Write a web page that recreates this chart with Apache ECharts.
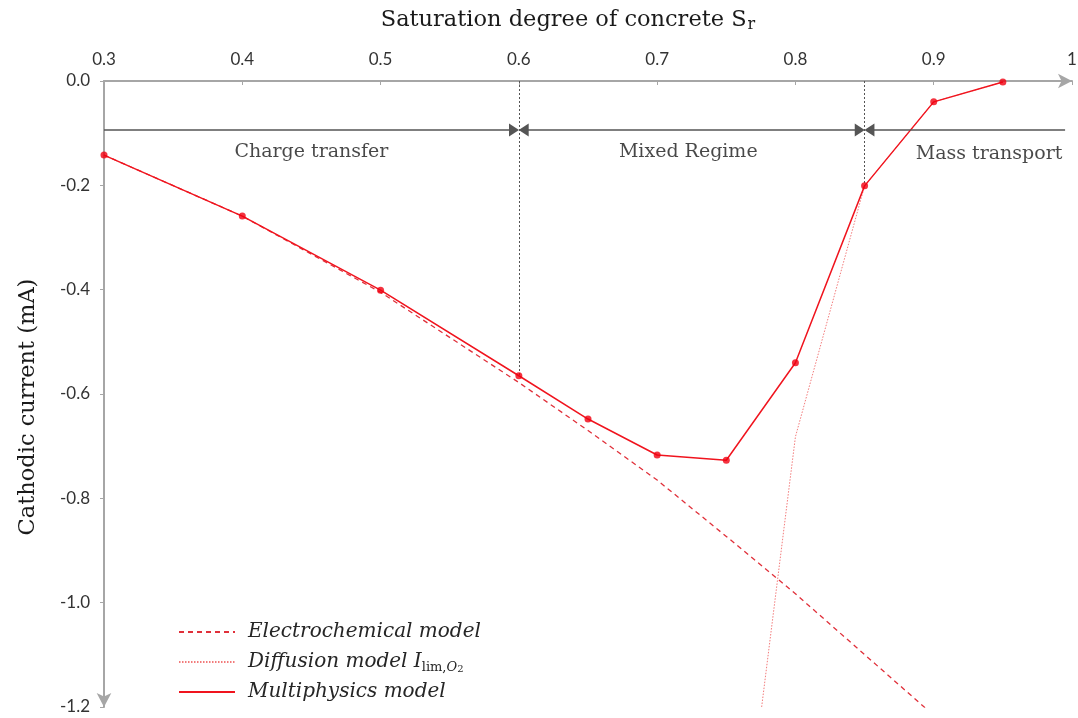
<!DOCTYPE html>
<html>
<head>
<meta charset="utf-8">
<script src="https://cdn.jsdelivr.net/npm/echarts@6/dist/echarts.min.js"></script>
<style>html,body{margin:0;padding:0;background:#fff}#c{width:1078px;height:718px}</style>
</head>
<body>
<div id="c"></div>
<script>
// ---- data ----
const multiSr   = [0.3, 0.4, 0.5, 0.6, 0.65, 0.7, 0.75, 0.8, 0.85, 0.9, 0.95];
const multiI    = [-0.142, -0.259, -0.401, -0.565, -0.648, -0.717, -0.727, -0.540, -0.201, -0.040, -0.002];
const electroSr = [0.3, 0.4, 0.5, 0.6, 0.65, 0.7, 0.75, 0.8, 0.9];
const electroI  = [-0.142, -0.259, -0.405, -0.578, -0.670, -0.765, -0.873, -0.983, -1.216];
const diffSr    = [0.75, 0.8, 0.85, 0.9, 0.95];
const diffI     = [-1.742, -0.682, -0.201, -0.040, -0.002];
const xTicks    = [0.3, 0.4, 0.5, 0.6, 0.7, 0.8, 0.9, 1.0];
const yTicks    = [0.0, -0.2, -0.4, -0.6, -0.8, -1.0, -1.2];
const regimeBounds = [0.3, 0.6, 0.85, 0.995];
const regimeLevel  = -0.094;
const regimeNames  = ['Charge transfer', 'Mixed Regime', 'Mass transport'];
const regimeLabelSr = [0.45, 0.7225, 0.94];
const regimeLabelI  = [-0.137, -0.137, -0.14];
const seriesNames = ['Electrochemical model', 'Diffusion model', 'Multiphysics model'];

const pair = (xs, ys) => xs.map((x, i) => [x, ys[i]]);
const serif = 'DejaVu Serif';
const sans = 'Lato';
const arrowGap = 0.0035; // half arrow-head length in Sr units

const segColor = '#555';
const headSize = [13, 10];

const option = {
  animation: false,
  backgroundColor: '#fff',
  grid: { left: 104, right: 6, top: 81, bottom: 11, containLabel: false, outerBoundsMode: 'none' },
  xAxis: {
    type: 'value', position: 'top', min: xTicks[0], max: xTicks[xTicks.length - 1], interval: 0.1,
    name: 'Saturation degree of concrete S{sub|r}', nameLocation: 'middle', nameGap: 48,
    nameTextStyle: { fontFamily: serif, fontSize: 22.5, color: '#1a1a1a', padding: [0, 40, 0, 0],
      rich: { sub: { fontFamily: serif, fontSize: 16, color: '#1a1a1a', verticalAlign: 'bottom', padding: [10, 0, 0, 1] } } },
    axisLine: { onZero: false, lineStyle: { color: '#a6a6a6', width: 2 }, symbol: ['none', 'arrow'], symbolSize: [11, 14] },
    axisTick: { show: true, inside: true, length: 4, lineStyle: { color: '#a6a6a6' } },
    axisLabel: { fontFamily: sans, fontSize: 17, color: '#333', margin: 13,
      formatter: v => (Math.abs(v - 1) < 1e-9 ? '1' : v.toFixed(1)) },
    splitLine: { show: false }
  },
  yAxis: {
    type: 'value', min: yTicks[yTicks.length - 1], max: yTicks[0], interval: 0.2,
    name: 'Cathodic current (mA)', nameLocation: 'middle', nameGap: 64, nameRotate: 90,
    nameTextStyle: { fontFamily: serif, fontSize: 22.5, color: '#1a1a1a', padding: [0, 26, 0, 0] },
    axisLine: { onZero: false, lineStyle: { color: '#a6a6a6', width: 2 }, symbol: ['arrow', 'none'], symbolSize: [11, 14] },
    axisTick: { show: true, length: 4, lineStyle: { color: '#a6a6a6' } },
    axisLabel: { fontFamily: sans, fontSize: 17, color: '#333', margin: 14, formatter: v => v.toFixed(1) },
    splitLine: { show: false }
  },
  legend: {
    orient: 'vertical', left: 178, top: 620, padding: 0, itemWidth: 56, itemHeight: 14, itemGap: 6,
    data: seriesNames,
    itemStyle: { color: 'rgba(0,0,0,0)', borderColor: 'rgba(0,0,0,0)', borderWidth: 0, opacity: 0 },
    textStyle: { fontFamily: serif, fontStyle: 'italic', fontSize: 20, color: '#262626', padding: [0, 0, 0, 8], lineHeight: 24,
      rich: {
        i: { fontFamily: serif, fontStyle: 'italic', fontSize: 20, color: '#262626', lineHeight: 24 },
        sub: { fontFamily: serif, fontStyle: 'normal', fontSize: 13, color: '#262626', verticalAlign: 'bottom', lineHeight: 13 },
        subi: { fontFamily: serif, fontStyle: 'italic', fontSize: 13, color: '#262626', verticalAlign: 'bottom', lineHeight: 13 },
        subsub: { fontFamily: serif, fontStyle: 'normal', fontSize: 10, color: '#262626', verticalAlign: 'bottom', lineHeight: 9 }
      } },
    formatter: n => n === 'Diffusion model' ? 'Diffusion model {i|I}{sub|lim,}{subi|O}{subsub|2}' : n
  },
  series: [
    {
      name: seriesNames[0], type: 'line', data: pair(electroSr, electroI), symbol: 'none', z: 2,
      lineStyle: { color: '#e0303a', width: 1.3, type: [5, 4] }, itemStyle: { color: '#e0303a' }
    },
    {
      name: seriesNames[1], type: 'line', data: pair(diffSr, diffI), symbol: 'none', z: 1,
      lineStyle: { color: '#f27b7b', width: 1, type: [1.5, 1.5] }, itemStyle: { color: '#f27b7b' }
    },
    {
      name: seriesNames[2], type: 'line', data: pair(multiSr, multiI), symbol: 'none', z: 4,
      lineStyle: { color: '#f0141e', width: 1.5 }, itemStyle: { color: '#f0141e' }
    },
    {
      name: 'markers', type: 'scatter', data: pair(multiSr, multiI), symbol: 'circle', symbolSize: 7, z: 5,
      itemStyle: { color: '#f00010' }
    },
    {
      name: 'regimes', type: 'line', data: [], z: 3,
      markLine: {
        silent: true, animation: false, label: { show: false },
        data: [
          [{ coord: [regimeBounds[1], 0], symbol: 'none', lineStyle: { color: '#555', type: [2, 2], width: 1 } },
           { coord: [regimeBounds[1], multiI[3]], symbol: 'none' }],
          [{ coord: [regimeBounds[2], 0], symbol: 'none', lineStyle: { color: '#555', type: [2, 2], width: 1 } },
           { coord: [regimeBounds[2], multiI[8]], symbol: 'none' }],
          [{ coord: [regimeBounds[0], regimeLevel], symbol: 'none', lineStyle: { color: segColor, type: 'solid', width: 1.5 } },
           { coord: [regimeBounds[1] - arrowGap, regimeLevel], symbol: 'triangle', symbolSize: headSize }],
          [{ coord: [regimeBounds[1] + arrowGap, regimeLevel], symbol: 'triangle', symbolSize: headSize, lineStyle: { color: segColor, type: 'solid', width: 1.5 } },
           { coord: [regimeBounds[2] - arrowGap, regimeLevel], symbol: 'triangle', symbolSize: headSize }],
          [{ coord: [regimeBounds[2] + arrowGap, regimeLevel], symbol: 'triangle', symbolSize: headSize, lineStyle: { color: segColor, type: 'solid', width: 1.5 } },
           { coord: [regimeBounds[3], regimeLevel], symbol: 'none' }]
        ]
      }
    },
    {
      name: 'regimeLabels', type: 'scatter', symbolSize: 0, z: 6,
      data: regimeNames.map((n, i) => ({ name: n, value: [regimeLabelSr[i], regimeLabelI[i]] })),
      label: { show: true, position: 'inside', formatter: '{b}', fontFamily: serif, fontSize: 19, color: '#1a1a1a' }
    }
  ]
};
const chart = echarts.init(document.getElementById('c'), null, { renderer: 'canvas' });
chart.setOption(option);
</script>
</body>
</html>
